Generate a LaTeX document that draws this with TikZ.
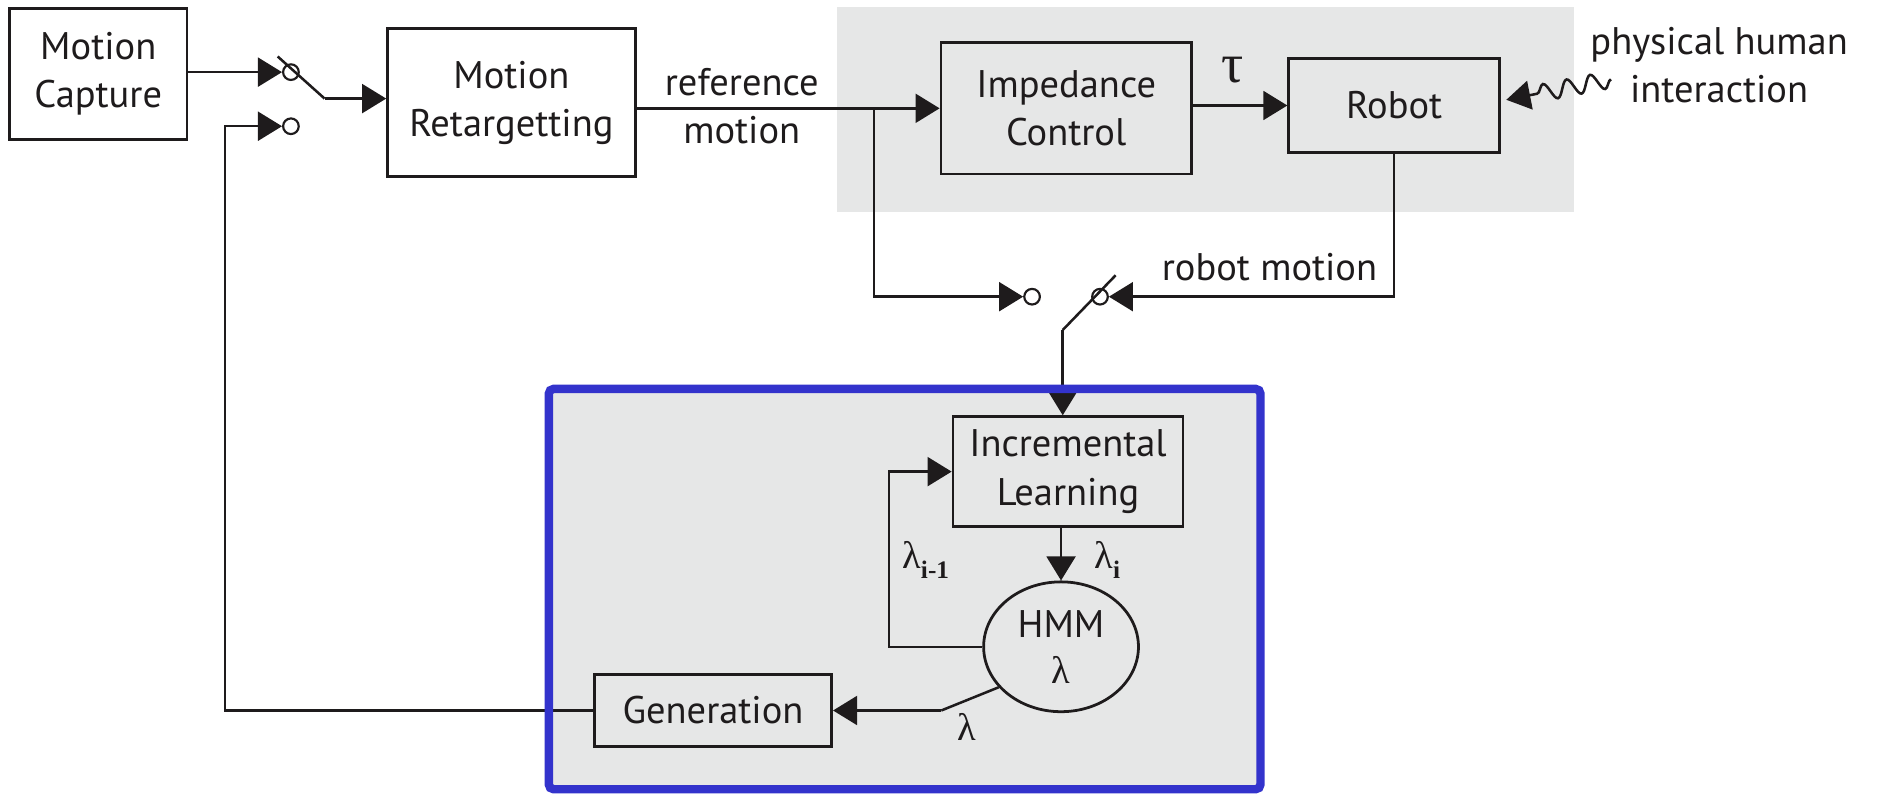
\documentclass[tikz,border=0pt]{standalone}
\usepackage{fontspec}
\setmainfont{PT Sans}
\newfontfamily\grkfont{Liberation Serif}
\newcommand\mylam{{\grkfont λ}}
\newcommand\mysub[1]{\raisebox{-8pt}{\fontsize{21}{21}\selectfont\grkfont\bfseries #1}}
\usetikzlibrary{arrows.meta,decorations.pathmorphing,shapes.geometric,calc}
\definecolor{bggray}{RGB}{230,231,231}
\definecolor{frameblue}{RGB}{51,51,204}
\definecolor{ink}{RGB}{30,27,28}
\begin{document}
\begin{tikzpicture}[x=1pt,y=-1pt,
  every node/.style={font=\fontsize{32}{40}\selectfont, text=ink},
  blk/.style={draw=ink, line width=2.3pt, rectangle, inner sep=0pt, align=center},
  con/.style={draw=ink, line width=2.1pt},
  arr/.style={con, -{Triangle[length=20pt,width=24pt]}},
  sw/.style={circle, draw=ink, line width=1.8pt, minimum size=13pt, inner sep=0pt},
  lbl/.style={inner sep=0pt, align=center}
]
\useasboundingbox (0,0) rectangle (1568,664);
% backgrounds
\fill[bggray] (696,5.5) rectangle (1309,176);
\fill[bggray] (456.5,323.5) rectangle (1048.5,656.5);

% blocks
\node[blk, minimum width=147.5pt, minimum height=109pt] (mc) at (81.75,61.5) {Motion\\Capture};
\node[blk, minimum width=206pt, minimum height=123.4pt] (mr) at (425.4,85.3) {Motion\\Retargetting};
\node[blk, minimum width=208.3pt, minimum height=109.2pt] (ic) at (886.9,90.1) {Impedance\\Control};
\node[blk, minimum width=175.4pt, minimum height=78.5pt] (rb) at (1159.7,87.75) {Robot};
\node[blk, minimum width=191.3pt, minimum height=91.4pt] (il) at (888.4,392.3) {Incremental\\Learning};
\node[blk, ellipse, minimum width=128.8pt, minimum height=108pt, inner sep=0pt] (hmm) at (882.6,538) {HMM\\[-2pt]\mylam};
\node[blk, minimum width=197.4pt, minimum height=59.6pt] (gen) at (593.1,591) {Generation};

% switch contacts
\node[sw] (c1) at (242,60) {};
\node[sw] (c2) at (242,105) {};
\node[sw] (c3) at (858.5,246.8) {};
\node[sw] (c4) at (915,246.8) {};

% coordinates
\coordinate (lt) at (231,47);
\coordinate (lb) at (270,82);
\coordinate (mlb) at (884,274.5);
\coordinate (mlt) at (928,229);
\coordinate (br) at (727,0);
\coordinate (ret) at (187,105);
\coordinate (fb) at (739.5,538);
\coordinate (kink) at (783,591);
\coordinate (ph) at (1340,66);
\coordinate (phtip) at (1253,83);

% connectors
\draw[arr] (mc.east |- c1.west) -- (c1.west);
\draw[con] (lt) -- (lb);
\draw[arr] (lb) -- (lb -| mr.west);
\draw[arr] (mr.east |- ic.west) -- (ic.west);
\draw[arr] (br |- ic.west) |- (c3.west);
\draw[arr] (ic.east |- rb.west) -- (rb.west);
\draw[arr, decorate, decoration={snake, amplitude=7pt, segment length=20pt, post length=26pt}] (ph) -- (phtip);
\draw[arr] (rb.south) |- (c4.east);
\draw[con] (mlb) -- (mlt);
\draw[arr] (mlb) -- (mlb |- il.north);
\draw[arr] (hmm.north |- il.south) -- (hmm.north);
\draw[arr] (hmm.west) -- (hmm.west -| fb) |- (il.west);
\draw[con] (hmm.213) -- (kink);
\draw[arr] (kink) -- (kink -| gen.east);
\draw[arr] (gen.west) -| (ret) -- (c2.west);

% labels
\node[lbl] (lref) at (617,88) {reference\\motion};
\node[lbl, font=\fontsize{46}{46}\selectfont] (ltau) at (1025,58) {{\grkfont τ}};
\node[lbl] (lphys) at (1430,54) {physical human\\interaction};
\node[lbl] (lrm) at (1056,222) {robot motion};
\node[lbl] (lim1) at (770,466) {\mylam\mysub{i-1}};
\node[lbl] (li) at (921,466) {\mylam\mysub{i}};
\node[lbl] (ll) at (804,605) {\mylam};

% blue frame on top
\draw[frameblue, line width=7pt, rounded corners=4pt] (456.5,323.5) rectangle (1048.5,656.5);
\end{tikzpicture}
\end{document}
